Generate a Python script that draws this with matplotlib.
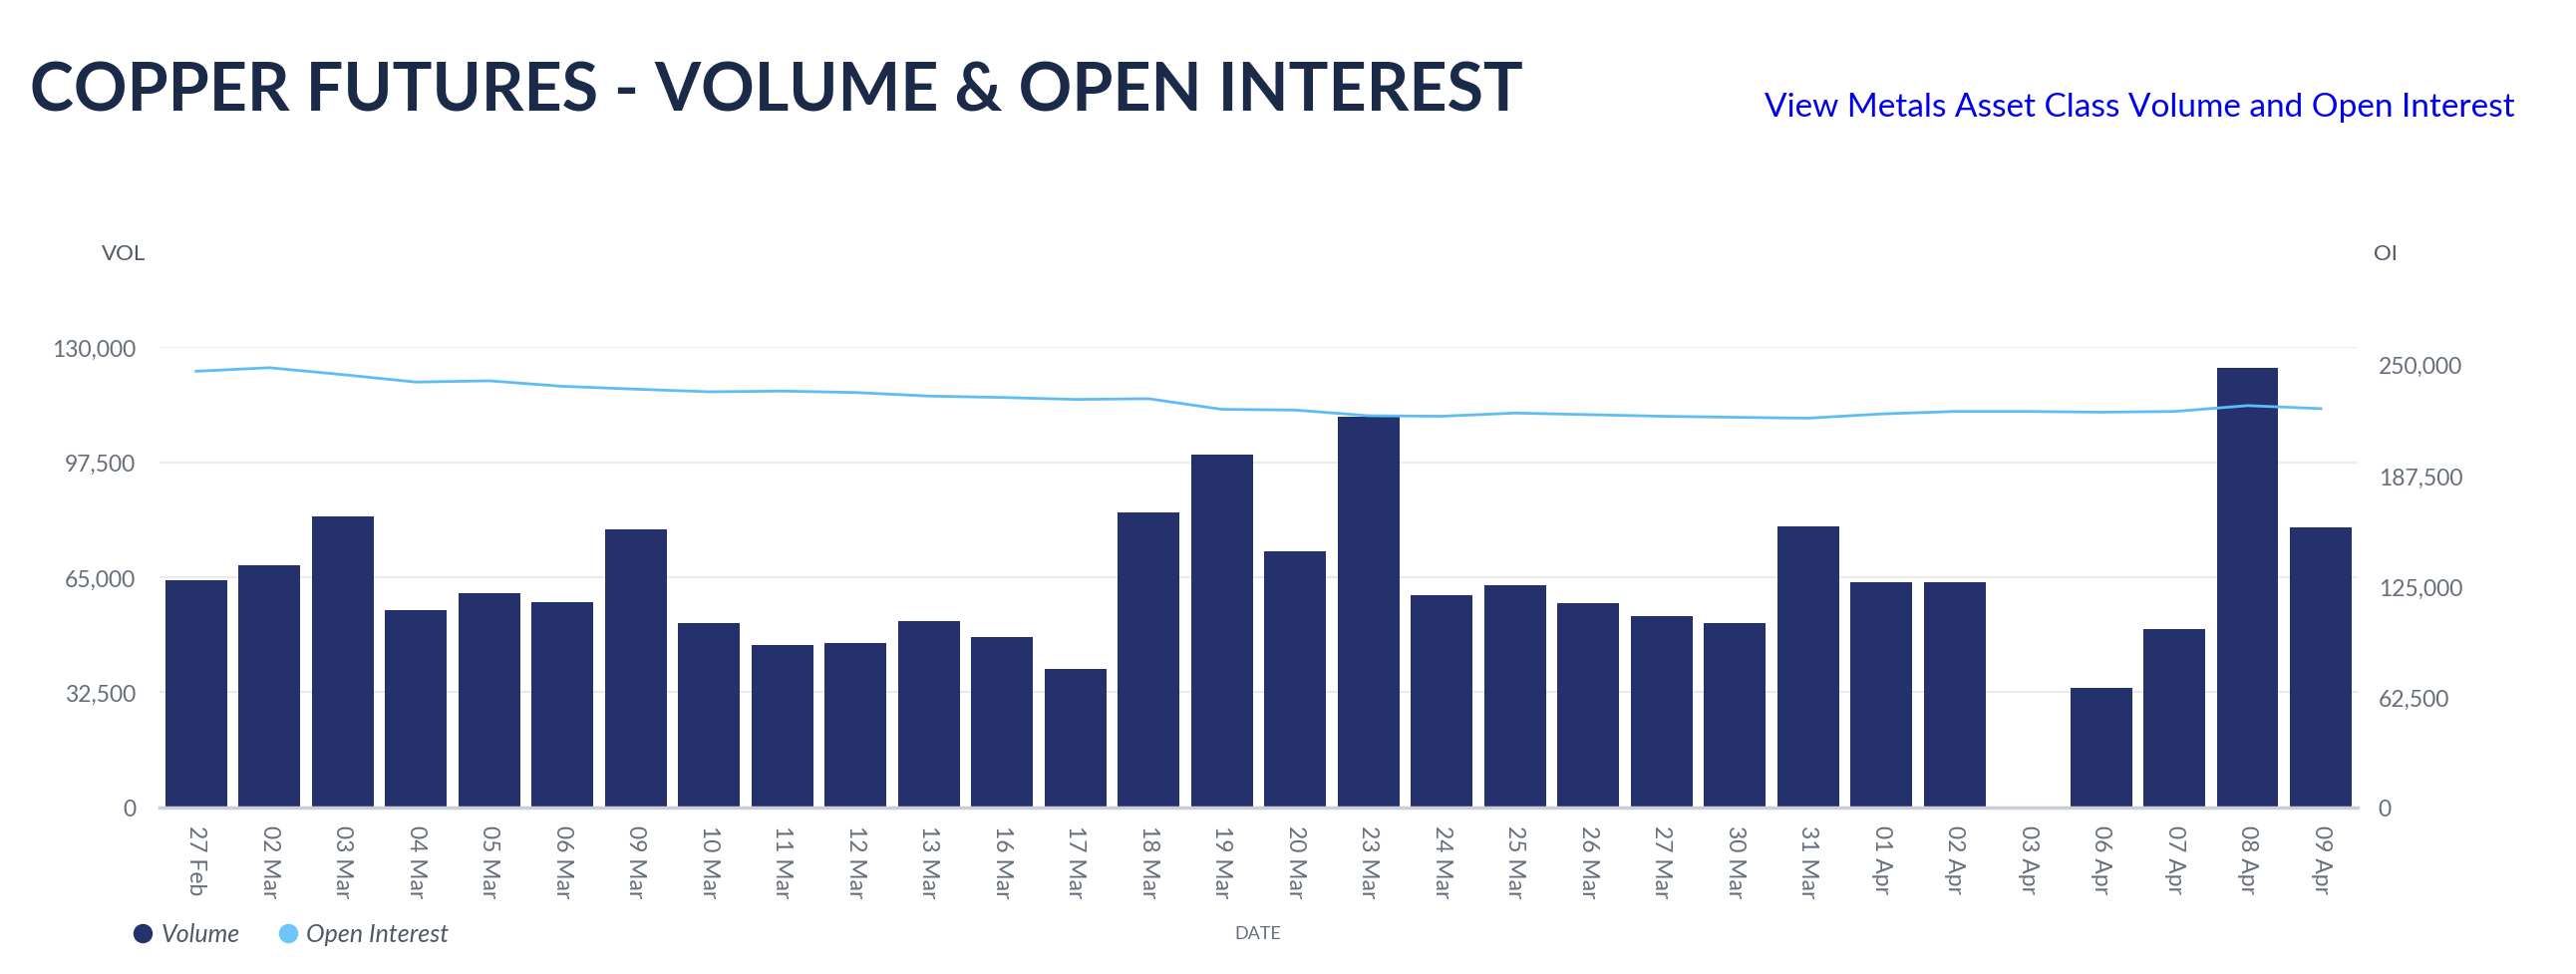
import matplotlib
matplotlib.use("Agg")
import matplotlib.pyplot as plt
from matplotlib.lines import Line2D
from matplotlib.ticker import FuncFormatter
import numpy as np

plt.rcParams['font.family'] = ['Lato', 'DejaVu Sans']

dates = ['27 Feb', '02 Mar', '03 Mar', '04 Mar', '05 Mar', '06 Mar', '09 Mar', '10 Mar',
         '11 Mar', '12 Mar', '13 Mar', '16 Mar', '17 Mar', '18 Mar', '19 Mar', '20 Mar',
         '23 Mar', '24 Mar', '25 Mar', '26 Mar', '27 Mar', '30 Mar', '31 Mar', '01 Apr',
         '02 Apr', '03 Apr', '06 Apr', '07 Apr', '08 Apr', '09 Apr']

volume = [64100, 68400, 82100, 55800, 60500, 57900, 78600, 52000,
          46000, 46400, 52700, 48200, 39000, 83200, 99700, 72300,
          110400, 59900, 62700, 57600, 53900, 52000, 79400, 63700,
          63700, 0, 33800, 50500, 124200, 79000]

open_interest = [246300, 248300, 244400, 240200, 240900, 237800, 236200, 234700,
                 235100, 234300, 232300, 231500, 230400, 230800, 224800, 224400,
                 221200, 220900, 222700, 221800, 220900, 220300, 219800, 222200,
                 223600, 223600, 223200, 223600, 226900, 225200]

vol_ticks = [0, 32500, 65000, 97500, 130000]
oi_ticks = [0, 62500, 125000, 187500, 250000]

BAR_COLOR = '#24316d'
LINE_COLOR = '#5ebdf7'
TICK_COLOR = '#666e7a'

fig = plt.figure(figsize=(25.84, 9.78), dpi=100)
ax = fig.add_axes([0.0619, 0.1708, 0.8533, 0.4723])
ax2 = ax.twinx()

x = np.arange(len(dates))
ax.bar(x, volume, width=0.84, color=BAR_COLOR, zorder=2)
ax2.plot(x, open_interest, color=LINE_COLOR, lw=2, zorder=3)

ax.set_xlim(-0.5, len(dates) - 0.5)
ax.set_ylim(0, 130000)
ax2.set_ylim(0, 260000)

fmt = FuncFormatter(lambda v, p: f"{int(v):,}")
ax.set_yticks(vol_ticks)
ax.yaxis.set_major_formatter(fmt)
ax2.set_yticks(oi_ticks)
ax2.yaxis.set_major_formatter(fmt)

ax.grid(axis='y', color='#ebebeb', lw=1.5, zorder=0)
ax.set_axisbelow(True)

for a in (ax, ax2):
    for s in a.spines.values():
        s.set_visible(False)
ax.spines['bottom'].set_visible(True)
ax.spines['bottom'].set_color('#c8cdd6')
ax.spines['bottom'].set_linewidth(2.5)

ax.set_xticks(x)
ax.set_xticklabels(dates, rotation=270, fontsize=16.5, color=TICK_COLOR)
ax.tick_params(axis='x', length=0, pad=12)
ax.tick_params(axis='y', length=0, pad=17, labelsize=16.5, labelcolor=TICK_COLOR)
ax2.tick_params(axis='y', length=0, pad=15, labelsize=16.5, labelcolor=TICK_COLOR)

fig.text(124 / 2584, 1 - 255 / 978, 'VOL', fontsize=16, color='#4f5866',
         ha='center', va='center')
fig.text(2381 / 2584, 1 - 255 / 978, 'OI', fontsize=16, color='#4f5866',
         ha='left', va='center')
fig.text(1262 / 2584, 1 - 937 / 978, 'DATE', fontsize=13, color=TICK_COLOR,
         ha='center', va='center')

fig.text(30 / 2584, 1 - 92 / 978, 'COPPER FUTURES - VOLUME & OPEN INTEREST',
         fontsize=47.8, fontweight='bold', color='#1b2a48', ha='left', va='center')
fig.text(2523 / 2584, 1 - 108 / 978, 'View Metals Asset Class Volume and Open Interest',
         fontsize=24, color='#0000ee', ha='right', va='center')

handles = [Line2D([], [], ls='none', marker='o', ms=13, color=BAR_COLOR),
           Line2D([], [], ls='none', marker='o', ms=13, color='#6cc6fa')]
leg = fig.legend(handles, ['Volume', 'Open Interest'], loc='center left',
                 bbox_to_anchor=(108 / 2584, 1 - 938 / 978), ncol=2, frameon=False,
                 handletextpad=0.25, columnspacing=1.4, handlelength=1.0,
                 prop={'size': 18, 'style': 'italic'})
for t in leg.get_texts():
    t.set_color('#4f5866')

fig.savefig('out.png', dpi=100, facecolor='white')
